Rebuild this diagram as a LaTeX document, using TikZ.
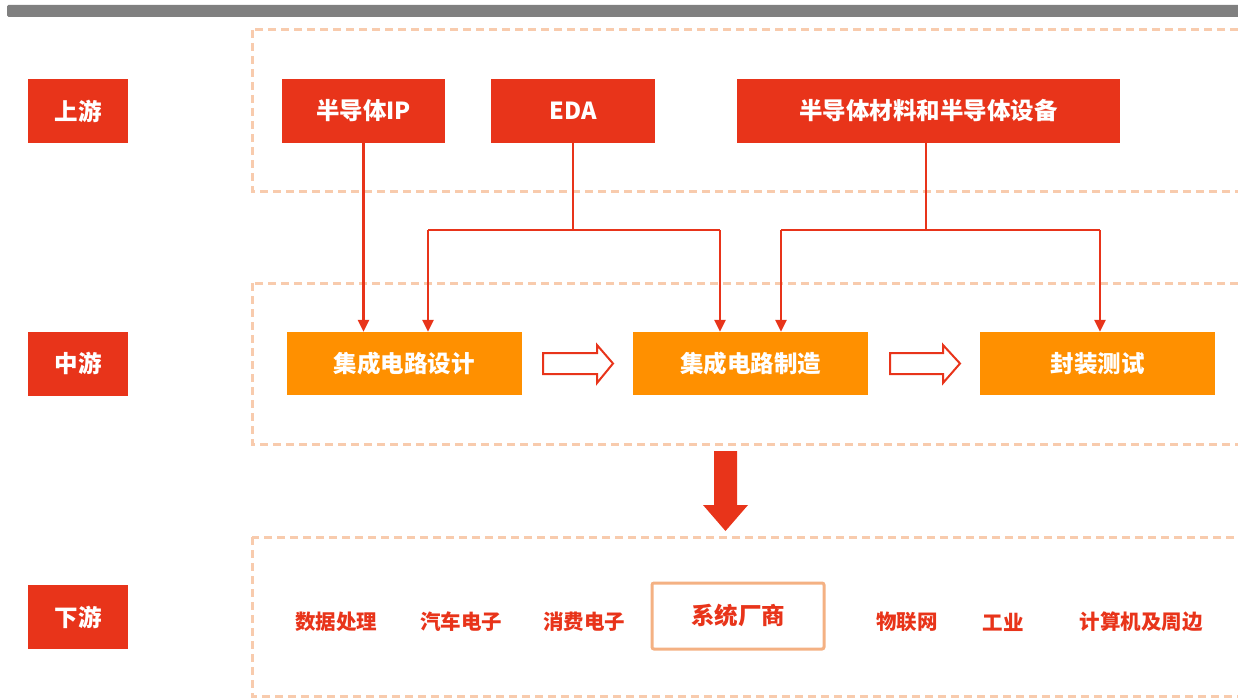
\documentclass[tikz,border=0pt]{standalone}
\usepackage{fontspec}
\setmainfont{Noto Sans CJK SC}
\usetikzlibrary{arrows.meta}
\definecolor{cred}{HTML}{E8341A}
\definecolor{corange}{HTML}{FF9000}
\definecolor{cpeach}{HTML}{F8CBAD}
\definecolor{cbox}{HTML}{F4B183}
\definecolor{cgray}{HTML}{808080}
\tikzset{
  lbl/.style={fill=cred, text=white, font=\bfseries\fontsize{23.5}{23.5}\selectfont, minimum width=100pt, minimum height=64pt, inner sep=0pt},
  upbox/.style={fill=cred, text=white, font=\bfseries\fontsize{23.5}{23.5}\selectfont, minimum height=64pt, inner sep=0pt},
  midbox/.style={fill=corange, text=white, font=\bfseries\fontsize{23.5}{23.5}\selectfont, minimum width=235pt, minimum height=63pt, inner sep=0pt},
  item/.style={text=cred, font=\bfseries\fontsize{20.5}{20.5}\selectfont, inner sep=0pt},
  zone/.style={draw=cpeach, line width=3pt, dash pattern=on 8pt off 5pt},
  link/.style={draw=cred, line width=2.5pt},
  linkarr/.style={link, -{Triangle[width=11pt,length=12pt]}},
  hollow/.style={draw=cred, fill=white, line width=2pt, line join=miter},
}
\begin{document}
\begin{tikzpicture}[x=1pt, y=-1pt]
\useasboundingbox (0,0) rectangle (1238,698);
\clip (0,0) rectangle (1238,698);
% top bar
\fill[cgray, rounded corners=1.5pt] (7,5) rectangle (1250,17);
% zones
\draw[zone] (252,30) rectangle (1260,191);
\draw[zone] (252,283) rectangle (1260,444);
\draw[zone] (252,537) rectangle (1260,696);
% left labels
\node[lbl] (up) at (78,111) {上游};
\node[lbl] (mid) at (78,363.5) {中游};
\node[lbl] (down) at (78,617) {下游};
% upstream boxes
\node[upbox, minimum width=163pt] (ip) at (363.5,111) {半导体IP};
\node[upbox, minimum width=164pt] (eda) at (573,111) {EDA};
\node[upbox, minimum width=383pt] (mat) at (928.5,111) {半导体材料和半导体设备};
% midstream boxes
\node[midbox] (design) at (404,363.5) {集成电路设计};
\node[midbox] (mfg) at (750.5,363.5) {集成电路制造};
\node[midbox] (pack) at (1097.5,363.5) {封装测试};
% connectors
\coordinate (edaL) at (428,230);
\coordinate (edaR) at (720,230);
\coordinate (matL) at (781,230);
\coordinate (matR) at (1100,230);
\draw[linkarr] (ip.south) -- (ip.south |- design.north);
\draw[link] (eda.south) -- (eda.south |- edaL);
\draw[link] (edaL) -- (edaR);
\draw[linkarr] (edaL) -- (edaL |- design.north);
\draw[linkarr] (edaR) -- (edaR |- mfg.north);
\draw[link] ([xshift=-2.5pt]mat.south) -- ([xshift=-2.5pt]mat.south |- matL);
\draw[link] (matL) -- (matR);
\draw[linkarr] (matL) -- (matL |- mfg.north);
\draw[linkarr] (matR) -- (matR |- pack.north);
% hollow arrows
\draw[hollow] (543,353) -- (597,353) -- (597,345) -- (613,363.5) -- (597,383) -- (597,374) -- (543,374) -- cycle;
\draw[hollow] (890,353) -- (943,353) -- (943,345) -- (960,363.5) -- (943,383) -- (943,374) -- (890,374) -- cycle;
% big down arrow
\fill[cred] (714,451) -- (737,451) -- (737,505) -- (748,505) -- (725.5,531) -- (703,505) -- (714,505) -- cycle;
% downstream items
\node[item] (i1) at (336,622) {数据处理};
\node[item] (i2) at (461,622) {汽车电子};
\node[item] (i3) at (584,622) {消费电子};
\node[draw=cbox, line width=3pt, rounded corners=2pt, minimum width=172pt, minimum height=66pt, text=cred, font=\bfseries\fontsize{23.5}{23.5}\selectfont, inner sep=0pt] (sys) at (738,616) {系统厂商};
\node[item] (i5) at (907,622) {物联网};
\node[item] (i6) at (1003,622) {工业};
\node[item] (i7) at (1141,622) {计算机及周边};
\end{tikzpicture}
\end{document}
